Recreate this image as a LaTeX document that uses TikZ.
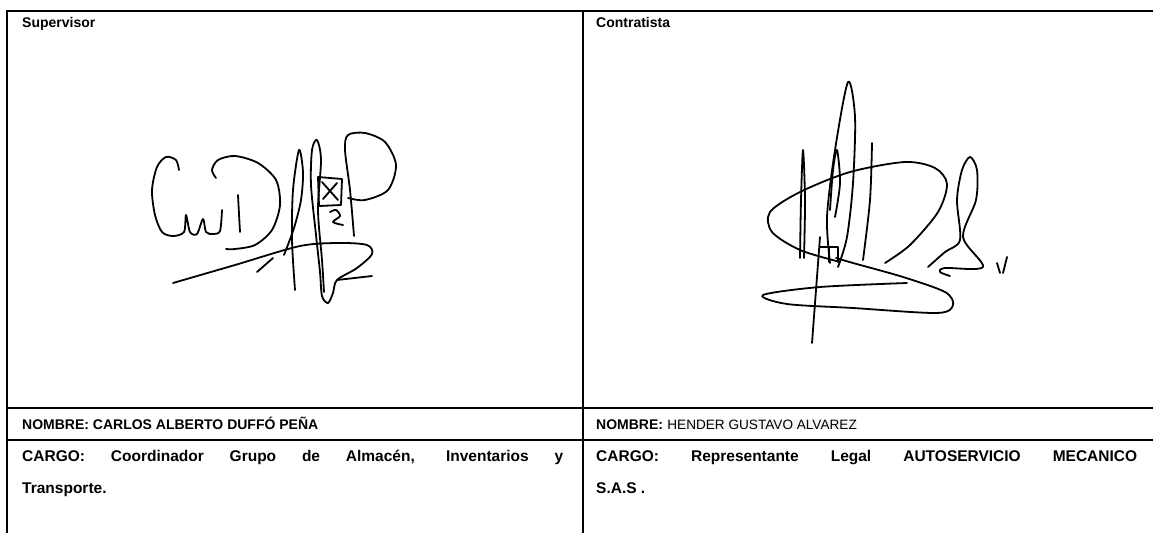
\documentclass[tikz,border=0pt]{standalone}
\usepackage{fontspec}
\setmainfont{Liberation Sans}
\usetikzlibrary{positioning}

\tikzset{
  rule/.style={line width=1.6pt},
  ink/.style={line width=1.8pt, line cap=round, line join=round},
  cell/.style={inner sep=0pt, anchor=base west, font=\fontsize{14}{16}\selectfont\bfseries},
  plain/.style={cell, font=\fontsize{13.6}{16}\selectfont},
  wide/.style={cell, font=\fontsize{15.5}{18}\selectfont\bfseries},
}
\newcommand{\fillline}[1]{\makebox[541pt][s]{#1}}

\begin{document}
\begin{tikzpicture}[x=1pt,y=-1pt]
  \useasboundingbox (0,0) rectangle (1153,533);
  \coordinate (tl) at (6,11);
  \coordinate (tm) at (583,11);
  \coordinate (tr) at (1153,11);
  \coordinate (al) at (6,408);
  \coordinate (ar) at (1153,408);
  \coordinate (bl) at (6,440);
  \coordinate (br) at (1153,440);
  \coordinate (el) at (7,533);
  \coordinate (em) at (583,533);
  \draw[rule] (tl) -- (tr);
  \draw[rule] (al) -- (ar);
  \draw[rule] (bl) -- (br);
  \draw[rule] (7,10.2) -- (el);
  \draw[rule] (tm) -- (em);

  \node[cell] (sup) at (22,27) {Supervisor};
  \node[cell] (con) at (596,27) {Contratista};
  \node[cell] (nom1) at (22,429) {NOMBRE: CARLOS ALBERTO DUFFÓ PEÑA};
  \node[cell] (nom2) at (596,429) {NOMBRE:};
  \node[plain, fill=black!4, right=3.9pt of nom2.base east, anchor=base west] (who2) {HENDER GUSTAVO ALVAREZ};
  \node[wide] (car1) at (22,461) {\fillline{CARGO: Coordinador Grupo de Almacén, Inventarios y}};
  \node[wide, below=32pt of car1.base west, anchor=base west] (car1b) {Transporte.};
  \node[wide] (car2) at (596,461) {\fillline{CARGO: Representante Legal AUTOSERVICIO MECANICO}};
  \node[wide, below=32pt of car2.base west, anchor=base west] (car2b) {S.A.S .};

  % firma supervisor
  \draw[ink] plot[smooth] coordinates {(179,170) (176,160) (166,157) (157,167) (152,190) (155,215) (162,232) (173,236) (184,232) (186,215) (190,232) (197,234) (203,219) (206,232) (213,234) (220,231) (222,210)};
  \draw[ink] plot[smooth] coordinates {(238,195) (239,214) (240,232)};
  \draw[ink] plot[smooth] coordinates {(216,178) (212,170) (218,160) (235,156) (258,163) (276,180) (280,205) (272,230) (255,245) (235,249) (226,249)};
  \draw[ink] plot[smooth] coordinates {(173,283) (235,265) (300,246) (340,243) (367,245) (372,254) (357,268) (337,280) (333,293) (328,303) (322,296) (320,272) (316,235) (311,185) (312,150) (317,140) (321,160) (318,210) (322,260) (324,292)};
  \draw[ink] (337,280) -- (372,276);
  \draw[ink] (257,272) -- (273,258);
  \draw[ink] plot[smooth] coordinates {(295,290) (292,240) (293,190) (299,150) (303,172) (301,200) (294,228) (284,255)};
  \draw[ink] (318,177) -- (342,179) -- (341,205) -- (319,206) -- cycle;
  \draw[ink] (322,182) -- (338,200);
  \draw[ink] (337,183) -- (323,199);
  \draw[ink] plot[smooth] coordinates {(330,212) (336,210) (340,216) (333,222) (343,225)};
  \draw[ink] plot[smooth] coordinates {(354,236) (350,190) (345,150) (348,135) (365,133) (385,142) (396,165) (388,190) (365,200) (348,198)};

  % firma contratista
  \draw[ink] plot[smooth] coordinates {(830,263) (827,217) (835,150) (848,82) (855,117) (853,183) (847,237) (838,267)};
  \draw[ink] plot[smooth] coordinates {(830,210) (833,170) (837,150) (840,183) (835,217)};
  \draw[ink] plot[smooth] coordinates {(800,258) (801,200) (803,150) (805,200) (804,258)};
  \draw[ink] plot[smooth] coordinates {(872,143) (870,200) (863,260)};
  \draw[ink] plot[smooth] coordinates {(840,262) (800,250) (772,232) (770,212) (800,192) (850,172) (905,162) (935,168) (947,184) (938,212) (910,245) (885,263)};
  \draw[ink] plot[smooth] coordinates {(907,283) (820,287) (763,295) (787,304) (853,308) (937,313) (953,305) (945,292) (903,277) (853,263) (836,258)};
  \draw[ink] (820,237) -- (812,343);
  \draw[ink] (820,247) -- (838,247) -- (838,262);
  \draw[ink] (829,247) -- (829,262);
  \draw[ink] plot[smooth] coordinates {(928,267) (945,252) (960,240) (957,200) (962,170) (970,157) (977,170) (976,200) (963,237) (983,267) (945,268) (940,272) (950,276)};
  \draw[ink] (997,263) -- (1000,273);
  \draw[ink] (1007,257) -- (1003,273);
\end{tikzpicture}
\end{document}
